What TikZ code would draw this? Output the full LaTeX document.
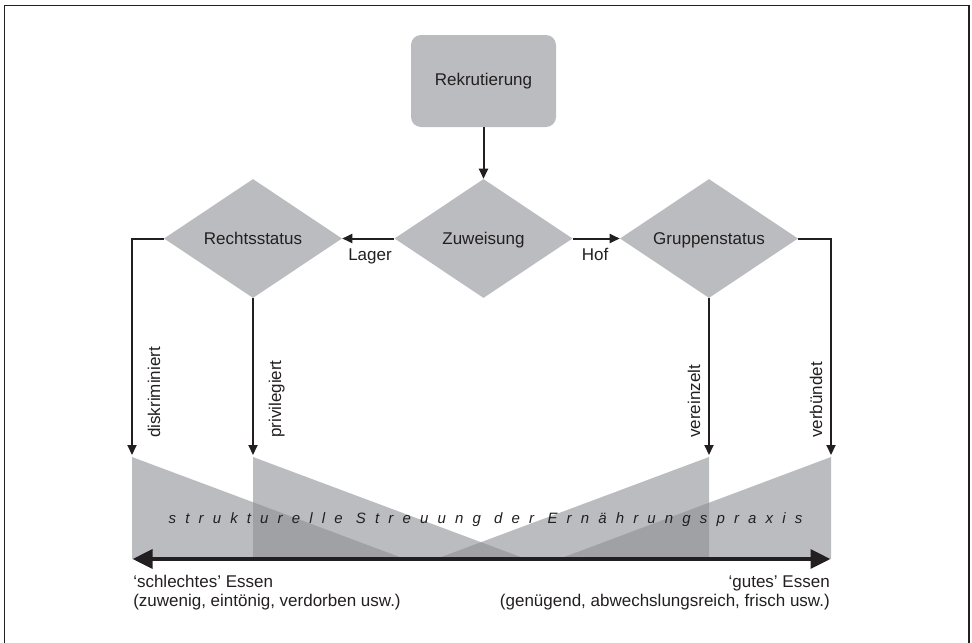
\documentclass[tikz,border=0pt]{standalone}
\usepackage{fontspec}
\setmainfont{Liberation Sans}
\newfontfamily\spacedfont{Liberation Sans}[LetterSpace=61]
\usetikzlibrary{shapes.geometric,arrows.meta}
\definecolor{boxgray}{RGB}{187,188,191}
\definecolor{overgray}{RGB}{160,161,164}
\definecolor{ink}{RGB}{35,31,32}
\begin{document}
\begin{tikzpicture}[x=0.75pt,y=-0.75pt,
  lbl/.style={font=\fontsize{12.75pt}{15pt}\selectfont, text=ink, inner sep=0pt},
  dia/.style={diamond, fill=boxgray, minimum width=133.5pt, minimum height=89.25pt, inner sep=0pt, lbl, text height=9pt, text depth=0pt},
  rekbox/.style={rectangle, rounded corners=7.5pt, fill=boxgray, minimum width=108.75pt, minimum height=69pt, lbl},
  conn/.style={draw=ink, line width=1.5pt, -{Triangle[length=7.5pt,width=6.75pt]}},
  bigarrow/.style={draw=ink, line width=3pt, {Triangle[length=15pt,width=14pt]}-{Triangle[length=15pt,width=14pt]}},
  tri/.style={fill=boxgray},
  over/.style={fill=overgray}]
\useasboundingbox (0,0) rectangle (972,643);
% frame
\draw[ink, line width=0.9pt] (4.5,643) -- (4.5,5.3) -- (969,5.3) -- (969,643);

% triangles
\fill[tri] (132,457) -- (132,559) -- (405,559) -- cycle;
\fill[tri] (253,457) -- (253,559) -- (526,559) -- cycle;
\fill[tri] (709,457) -- (709,559) -- (436,559) -- cycle;
\fill[tri] (831,457) -- (831,559) -- (559,559) -- cycle;
\begin{scope}
  \clip (253,457) -- (253,559) -- (526,559) -- cycle;
  \fill[over] (132,457) -- (132,559) -- (405,559) -- cycle;
\end{scope}
\begin{scope}
  \clip (253,457) -- (253,559) -- (526,559) -- cycle;
  \fill[over] (709,457) -- (709,559) -- (436,559) -- cycle;
\end{scope}
\begin{scope}
  \clip (709,457) -- (709,559) -- (436,559) -- cycle;
  \fill[over] (831,457) -- (831,559) -- (559,559) -- cycle;
\end{scope}

\node[anchor=base, text=ink, inner sep=0pt, font=\spacedfont\itshape\fontsize{11.25pt}{13pt}\selectfont] (streu) at (485.5,523) {strukturelle Streuung der Ernährungspraxis};

% nodes
\node[rekbox] (rek) at (483.5,81) {Rekrutierung};
\node[dia] (zuw) at (483.5,238.5) {\makebox[0pt]{Zuweisung}};
\node[dia] (rs) at (253,238.5) {\makebox[0pt]{Rechtsstatus}};
\node[dia] (gs) at (709,238.5) {\makebox[0pt]{Gruppenstatus}};

\coordinate (e1) at (132,455);
\coordinate (e2) at (253,455);
\coordinate (e3) at (709,455);
\coordinate (e4) at (831,455);

\draw[conn] (rek.south) -- (zuw.north);
\draw[conn] (zuw.west) -- (rs.east);
\draw[conn] (zuw.east) -- (gs.west);
\draw[conn] (rs.west) -| (e1);
\draw[conn] (rs.south) -- (e2);
\draw[conn] (gs.south) -- (e3);
\draw[conn] (gs.east) -| (e4);

\node[lbl, anchor=base] (lager) at (370,260) {Lager};
\node[lbl, anchor=base] (hof) at (595,260) {Hof};

\node[lbl, rotate=90, anchor=base west] (disk) at (160,438) {diskriminiert};
\node[lbl, rotate=90, anchor=base west] (priv) at (281,438) {privilegiert};
\node[lbl, rotate=90, anchor=base west] (verei) at (700,438) {vereinzelt};
\node[lbl, rotate=90, anchor=base west] (verb) at (822,438) {verbündet};

% bottom scale
\coordinate (bl) at (132.5,559);
\coordinate (br) at (830.5,559);
\draw[bigarrow] (bl) -- (br);

\node[lbl, anchor=base west] (schl1) at (133,587) {‘schlechtes’ Essen};
\node[lbl, anchor=base west] (schl2) at (133,606) {(zuwenig, eintönig, verdorben usw.)};
\node[lbl, anchor=base east] (gut1) at (830,587) {‘gutes’ Essen};
\node[lbl, anchor=base east] (gut2) at (830,606) {(genügend, abwechslungsreich, frisch usw.)};
\end{tikzpicture}
\end{document}
